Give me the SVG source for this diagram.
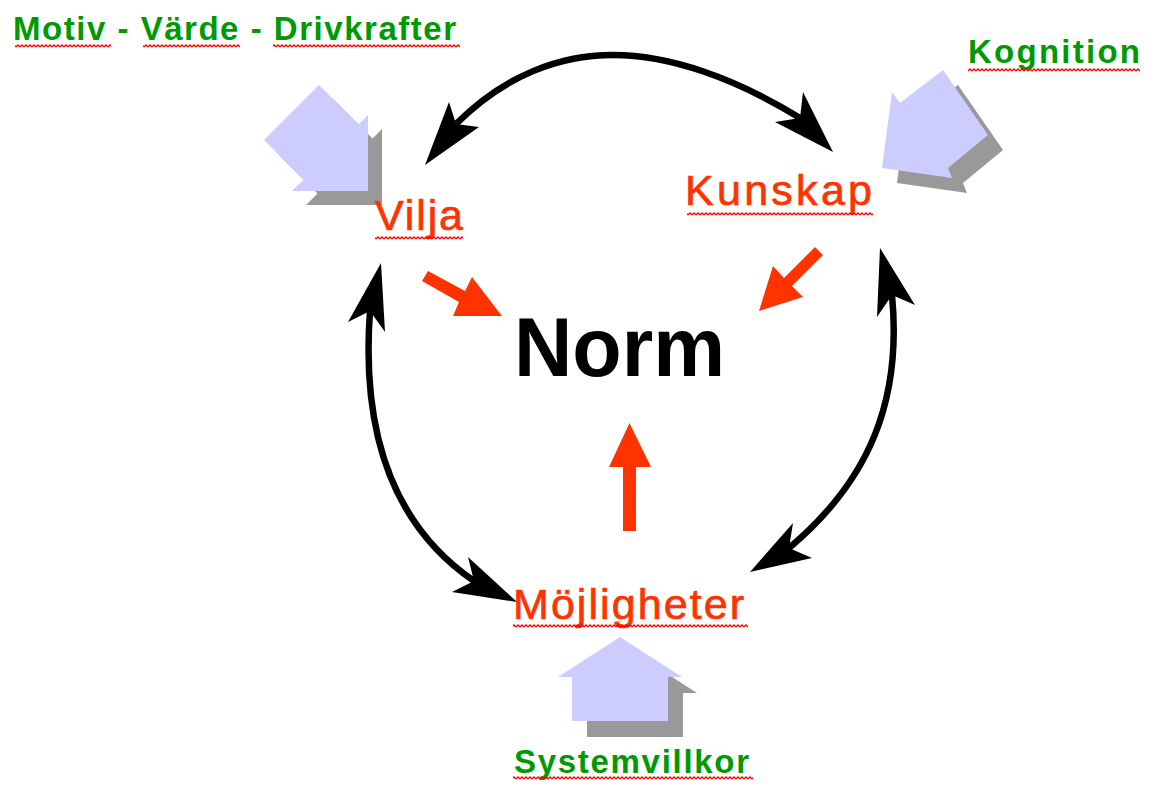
<svg xmlns="http://www.w3.org/2000/svg" width="1153" height="785" viewBox="0 0 1153 785">
<defs>
<pattern id="wave" width="4" height="4" patternUnits="userSpaceOnUse"><path d="M0 3 L2 1 L4 3" fill="none" stroke="#FF0000" stroke-width="1.3"/></pattern>
</defs>
<style>
.g{font-family:"Liberation Sans",Arial,sans-serif;font-weight:bold;font-size:33px;fill:#009900}
.r{font-family:"Liberation Sans",Arial,sans-serif;font-size:43px;fill:#FF3300;stroke:#FF3300;stroke-width:0.7}
.n{font-family:"Liberation Sans",Arial,sans-serif;font-weight:bold;font-size:84px;fill:#000}
.w{fill:url(#wave)}
.arc{fill:none;stroke:#000;stroke-width:6.5}
.head{fill:#000}
.red{fill:#FF3300}
.blk{fill:#CCCCFF}
.sh{fill:#999999}
</style>
<rect width="1153" height="785" fill="#fff"/>
<g id="connectors">
<g id="block-arrows">
<polygon class="sh" transform="translate(14,14)" points="319,85 358.5,124.5 368,115 368,191 292,191 303.5,179.5 264,140"/>
<polygon class="blk" points="319,85 358.5,124.5 368,115 368,191 292,191 303.5,179.5 264,140"/>
<polygon class="sh" transform="translate(15,15)" points="943,70 988,135 948,168 952,178 882,168 892,92 900,103"/>
<polygon class="blk" points="943,70 988,135 948,168 952,178 882,168 892,92 900,103"/>
<polygon class="sh" transform="translate(15,16)" points="620,637 682,677 668,677 668,721 572,721 572,677 558,677"/>
<polygon class="blk" points="620,637 682,677 668,677 668,721 572,721 572,677 558,677"/>
</g>
<g id="cycle-arcs">
<path class="arc" d="M456,124 C505,75 560,55 613,55 C670,55 735,78 800,118"/>
<polygon class="head" points="425,165 449,102 456,124 479,127"/>
<polygon class="head" points="833,152 803,92 800,118 775,122"/>
<path class="arc" d="M370,311 C362,420 385,520 474,581"/>
<polygon class="head" points="381,263 348,322 370,311 385,332"/>
<polygon class="head" points="517,602 468,557 474,581 452,592"/>
<path class="arc" d="M892,295 C902,400 870,480 789,548"/>
<polygon class="head" points="880,248 915,305 892,295 877,317"/>
<polygon class="head" points="750,572 793,523 789,548 812,558"/>
</g>
<g id="red-arrows">
<polygon class="red" points="428,271 465,291 472,277 502,316 453,316 459,302 422,281"/>
<polygon class="red" points="815,247 823,255 792,286 803,297 759,311 773,266 784,278"/>
<polygon class="red" points="623,531 636,531 636,467 651,467 629.5,423 609,467 623,467"/>
</g>
</g>
<g id="node-motiv">
<text class="g" x="13" y="40" textLength="443" lengthAdjust="spacing">Motiv - Värde - Drivkrafter</text>
<rect class="w" x="15" y="44" width="96" height="4"/>
<rect class="w" x="143" y="44" width="97" height="4"/>
<rect class="w" x="273" y="44" width="187" height="4"/>
</g>
<g id="node-kognition">
<text class="g" x="968" y="63" textLength="172" lengthAdjust="spacing">Kognition</text>
<rect class="w" x="968" y="68" width="172" height="4"/>
</g>
<g id="node-vilja">
<text class="r" x="375" y="230" textLength="88" lengthAdjust="spacing">Vilja</text>
<rect class="w" x="375" y="236" width="88" height="4"/>
</g>
<g id="node-kunskap">
<text class="r" x="685" y="205" textLength="187" lengthAdjust="spacing">Kunskap</text>
<rect class="w" x="687" y="212" width="186" height="4"/>
</g>
<g id="node-norm">
<text class="n" x="514" y="376" textLength="211" lengthAdjust="spacingAndGlyphs">Norm</text>
</g>
<g id="node-mojligheter">
<text class="r" x="513" y="619" textLength="231" lengthAdjust="spacing">Möjligheter</text>
<rect class="w" x="513" y="624" width="235" height="4"/>
</g>
<g id="node-systemvillkor">
<text class="g" x="514" y="773" textLength="235" lengthAdjust="spacing">Systemvillkor</text>
<rect class="w" x="513" y="776" width="240" height="4"/>
</g>
</svg>
